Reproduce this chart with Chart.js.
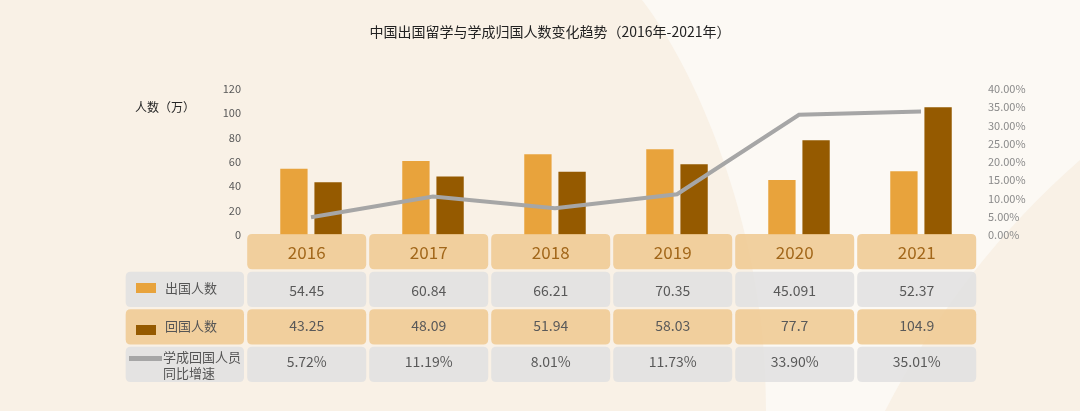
<!DOCTYPE html>
<html>
<head>
<meta charset="utf-8">
<script src="https://cdn.jsdelivr.net/npm/chart.js@4.4.1/dist/chart.umd.min.js"></script>
<style>
html,body{margin:0;padding:0;background:#F9F1E6;}
#wrap{width:1080px;height:411px;position:relative;}
</style>
</head>
<body>
<div id="wrap"><canvas id="c" width="1080" height="411"></canvas></div>
<script>
// ---- data ----
const years = ['2016', '2017', '2018', '2019', '2020', '2021'];
const outbound = [54.45, 60.84, 66.21, 70.35, 45.091, 52.37];      // 出国人数 (万)
const returned = [43.25, 48.09, 51.94, 58.03, 77.7, 104.9];        // 回国人数 (万)
const growthLine = [4.85, 10.5, 7.3, 11.15, 32.9, 33.8];           // line as drawn (%)
const growthText = ['5.72%', '11.19%', '8.01%', '11.73%', '33.90%', '35.01%'];
const seriesNames = ['出国人数', '回国人数', '学成回国人员同比增速'];
const leftAxisMax = 120, leftStep = 20;
const rightAxisMax = 40, rightStep = 5;
const titleText = '中国出国留学与学成归国人数变化趋势（2016年-2021年）';
const yAxisTitle = '人数（万）';

const FONT = '"Noto Sans CJK SC", "Noto Sans", sans-serif';
const ORANGE = '#E8A33C';
const BROWN = '#955A00';
const GRAY_LINE = '#A6A6A6';
const TAN = 'rgba(239,202,147,0.88)';
const CELL_GRAY = 'rgba(225,225,225,0.85)';

function rr(ctx, x, y, w, h, r) {
  ctx.beginPath();
  ctx.moveTo(x + r, y);
  ctx.lineTo(x + w - r, y);
  ctx.quadraticCurveTo(x + w, y, x + w, y + r);
  ctx.lineTo(x + w, y + h - r);
  ctx.quadraticCurveTo(x + w, y + h, x + w - r, y + h);
  ctx.lineTo(x + r, y + h);
  ctx.quadraticCurveTo(x, y + h, x, y + h - r);
  ctx.lineTo(x, y + r);
  ctx.quadraticCurveTo(x, y, x + r, y);
  ctx.closePath();
}

const bgPlugin = {
  id: 'bg',
  beforeDraw(chart) {
    const ctx = chart.ctx;
    ctx.save();
    ctx.fillStyle = '#F9F1E6';
    ctx.fillRect(0, 0, chart.width, chart.height);
    ctx.fillStyle = '#FCF9F4';
    ctx.beginPath();
    ctx.moveTo(642, 0);
    ctx.bezierCurveTo(700, 75, 768, 240, 766, 411);
    ctx.lineTo(885, 411);
    ctx.quadraticCurveTo(960, 265, 1080, 160);
    ctx.lineTo(1080, 0);
    ctx.closePath();
    ctx.fill();
    ctx.restore();
  }
};

const tablePlugin = {
  id: 'table',
  afterDatasetsDraw(chart) {
    const ctx = chart.ctx;
    const xs = chart.scales.x;
    const rowTop = [234, 271.7, 309.2, 346.7];
    const rowH = 35.2;
    const rowFill = [TAN, CELL_GRAY, TAN, CELL_GRAY];
    const cellW = 119;
    ctx.save();
    // label column
    for (let r = 1; r < 4; r++) {
      ctx.fillStyle = rowFill[r];
      rr(ctx, 125.7, rowTop[r], 118.3, rowH, 5);
      ctx.fill();
    }
    // data cells
    for (let i = 0; i < years.length; i++) {
      const cx = xs.getPixelForValue(i) - 4.3;
      for (let r = 0; r < 4; r++) {
        ctx.fillStyle = rowFill[r];
        rr(ctx, cx - cellW / 2, rowTop[r], cellW, rowH, 5);
        ctx.fill();
      }
      ctx.textAlign = 'center';
      ctx.textBaseline = 'middle';
      ctx.fillStyle = '#A2671A';
      ctx.font = '17px ' + FONT;
      ctx.fillText(years[i], cx, 253);
      ctx.fillStyle = '#595959';
      ctx.font = '14px ' + FONT;
      ctx.fillText(String(outbound[i]), cx, 290.5);
      ctx.fillText(String(returned[i]), cx, 325.5);
      ctx.fillText(growthText[i], cx, 362);
    }
    // legend entries in label column
    ctx.fillStyle = ORANGE;
    ctx.fillRect(136, 283, 20, 10);
    ctx.fillStyle = BROWN;
    ctx.fillRect(136, 325, 20, 10);
    ctx.strokeStyle = GRAY_LINE;
    ctx.lineWidth = 5;
    ctx.beginPath();
    ctx.moveTo(129, 358.5);
    ctx.lineTo(162, 358.5);
    ctx.stroke();
    ctx.fillStyle = '#555555';
    ctx.font = '13px ' + FONT;
    ctx.textAlign = 'left';
    ctx.textBaseline = 'middle';
    ctx.fillText(seriesNames[0], 165, 288.5);
    ctx.fillText(seriesNames[1], 165, 326.5);
    ctx.fillText(seriesNames[2].slice(0, 6), 163, 357);
    ctx.fillText(seriesNames[2].slice(6), 163, 373);
    // left axis title
    ctx.fillStyle = '#262626';
    ctx.font = '12px ' + FONT;
    ctx.fillText(yAxisTitle, 135, 107);
    ctx.restore();
  }
};

new Chart(document.getElementById('c'), {
  type: 'bar',
  data: {
    labels: years,
    datasets: [
      {
        type: 'line',
        label: seriesNames[2],
        data: growthLine,
        yAxisID: 'y1',
        borderColor: GRAY_LINE,
        borderWidth: 4,
        pointRadius: 0,
        tension: 0,
        fill: false,
        order: 0
      },
      {
        label: seriesNames[0],
        data: outbound,
        yAxisID: 'y',
        backgroundColor: ORANGE,
        categoryPercentage: 0.56,
        barPercentage: 0.8,
        order: 1
      },
      {
        label: seriesNames[1],
        data: returned,
        yAxisID: 'y',
        backgroundColor: BROWN,
        categoryPercentage: 0.56,
        barPercentage: 0.8,
        order: 1
      }
    ]
  },
  options: {
    responsive: false,
    animation: false,
    devicePixelRatio: 1,
    layout: { padding: { left: 20, right: 0, top: 0, bottom: 176 } },
    plugins: {
      legend: { display: false },
      tooltip: { enabled: false },
      title: {
        display: true,
        text: titleText,
        color: '#222222',
        font: { family: FONT, size: 14, weight: 'normal' },
        padding: { top: 23, bottom: 49 }
      }
    },
    scales: {
      x: { display: false, offset: true },
      y: {
        position: 'left',
        min: 0,
        max: leftAxisMax,
        grid: { display: false, drawTicks: false },
        border: { display: false },
        ticks: {
          stepSize: leftStep,
          padding: 9,
          color: '#595959',
          font: { family: FONT, size: 11 }
        },
        afterFit: s => { s.width = 230; }
      },
      y1: {
        position: 'right',
        min: 0,
        max: rightAxisMax,
        grid: { display: false, drawTicks: false },
        border: { display: false },
        ticks: {
          stepSize: rightStep,
          padding: 6,
          color: '#8A8A8A',
          font: { family: FONT, size: 11 },
          callback: v => v.toFixed(2) + '%'
        },
        afterFit: s => { s.width = 98; }
      }
    }
  },
  plugins: [bgPlugin, tablePlugin]
});
</script>
</body>
</html>
